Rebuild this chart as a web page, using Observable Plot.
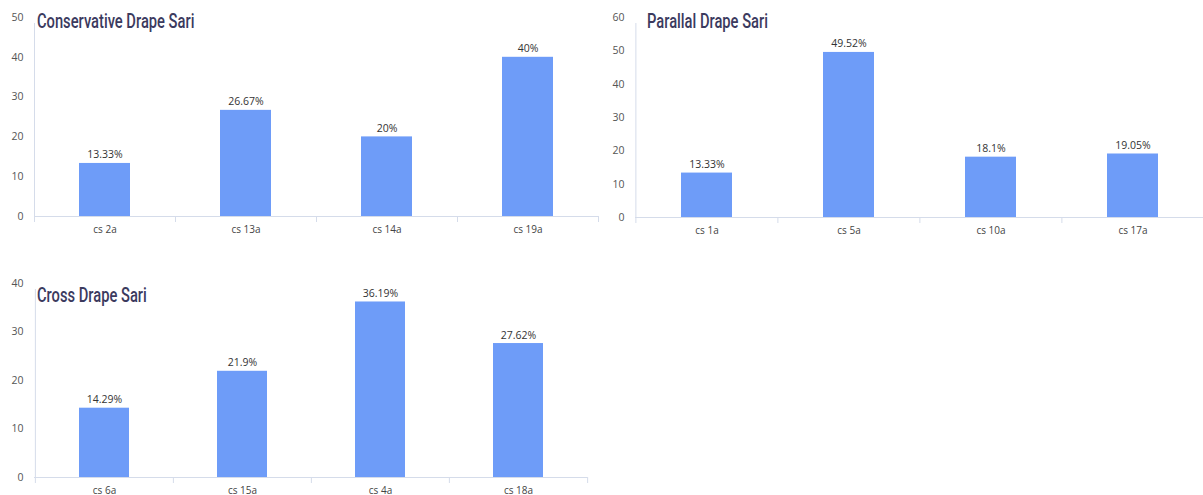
<!DOCTYPE html>
<html>
<head>
<meta charset="utf-8">
<script src="https://cdn.jsdelivr.net/npm/d3@7"></script>
<script src="https://cdn.jsdelivr.net/npm/@observablehq/plot@0.6"></script>
<style>
  body { margin: 0; background: #fff; width: 1203px; height: 495px; overflow: hidden; position: relative; font-family: "Open Sans", "Noto Sans", sans-serif; }
  .panel { position: absolute; }
  .title { position: absolute; font-family: "Roboto", "Noto Sans", sans-serif; font-weight: 500; font-size: 21px; color: #3b3a5e; white-space: nowrap; line-height: 1; transform: scaleX(0.7); transform-origin: 0 0; }
</style>
</head>
<body>
<script>
// Drape style categories and their shares (%)
const conservativeCats = ["cs 2a", "cs 13a", "cs 14a", "cs 19a"];
const conservativeVals = [13.33, 26.67, 20, 40];
const conservativeTicks = [0, 10, 20, 30, 40, 50];

const parallalCats = ["cs 1a", "cs 5a", "cs 10a", "cs 17a"];
const parallalVals = [13.33, 49.52, 18.1, 19.05];
const parallalTicks = [0, 10, 20, 30, 40, 50, 60];

const crossCats = ["cs 6a", "cs 15a", "cs 4a", "cs 18a"];
const crossVals = [14.29, 21.9, 36.19, 27.62];
const crossTicks = [0, 10, 20, 30, 40];

const titles = ["Conservative Drape Sari", "Parallal Drape Sari", "Cross Drape Sari"];

const BAR = "#6e9cf8";
const AXIS = "#d5dcea";

function panel({left, top, width, height, margin, cats, vals, ticks, title, titleLeft, titleTop}) {
  const [mt, mr, mb, ml] = margin;
  const rows = cats.map((cat, i) => ({cat, value: vals[i]}));
  const step = (width - ml - mr) / cats.length;
  const yMax = ticks[ticks.length - 1];

  const chart = Plot.plot({
    width, height,
    marginTop: mt, marginRight: mr, marginBottom: mb, marginLeft: ml,
    style: {background: "transparent", overflow: "visible"},
    x: {domain: cats, paddingInner: 0.64, paddingOuter: 0.32},
    y: {domain: [0, yMax]},
    marks: [
      Plot.axisY({ticks, tickSize: 0, tickPadding: 11, fontSize: 10.5, fill: "#555", label: null, fontFamily: "Open Sans"}),
      Plot.axisX({tickSize: 0, tickPadding: 9, fontSize: 10, fill: "#444", label: null, fontFamily: "Open Sans"}),
      // left axis line
      Plot.ruleX([cats[0]], {x: d => d, y1: () => 0, y2: () => yMax, dx: -step / 2, stroke: AXIS, insetBottom: -6}),
      // category boundary ticks
      Plot.ruleX(cats, {x: d => d, y1: () => 0, y2: () => 0, dx: -step / 2, stroke: AXIS, insetBottom: -6}),
      Plot.ruleX([cats[cats.length - 1]], {x: d => d, y1: () => 0, y2: () => 0, dx: step / 2, stroke: AXIS, insetBottom: -6}),
      Plot.ruleY([0], {stroke: AXIS}),
      Plot.barY(rows, {x: "cat", y: "value", fill: BAR}),
      Plot.text(rows, {x: "cat", y: "value", text: d => d.value + "%", lineAnchor: "bottom", dy: -5, fontSize: 10.5, fill: "#333", fontFamily: "Open Sans"})
    ]
  });

  const wrap = document.createElement("div");
  wrap.className = "panel";
  wrap.style.left = left + "px";
  wrap.style.top = top + "px";
  wrap.appendChild(chart);

  const t = document.createElement("div");
  t.className = "title";
  t.textContent = title;
  t.style.left = titleLeft + "px";
  t.style.top = titleTop + "px";
  wrap.appendChild(t);

  document.body.appendChild(wrap);
}

panel({left: 0, top: 0, width: 600, height: 240, margin: [17, 2, 24, 34],
  cats: conservativeCats, vals: conservativeVals, ticks: conservativeTicks,
  title: titles[0], titleLeft: 37, titleTop: 11});

panel({left: 600, top: 0, width: 603, height: 240, margin: [17, -1, 23, 35],
  cats: parallalCats, vals: parallalVals, ticks: parallalTicks,
  title: titles[1], titleLeft: 47, titleTop: 11});

panel({left: 0, top: 260, width: 600, height: 235, margin: [23, 13, 18, 34],
  cats: crossCats, vals: crossVals, ticks: crossTicks,
  title: titles[2], titleLeft: 37, titleTop: 25});
</script>
</body>
</html>
